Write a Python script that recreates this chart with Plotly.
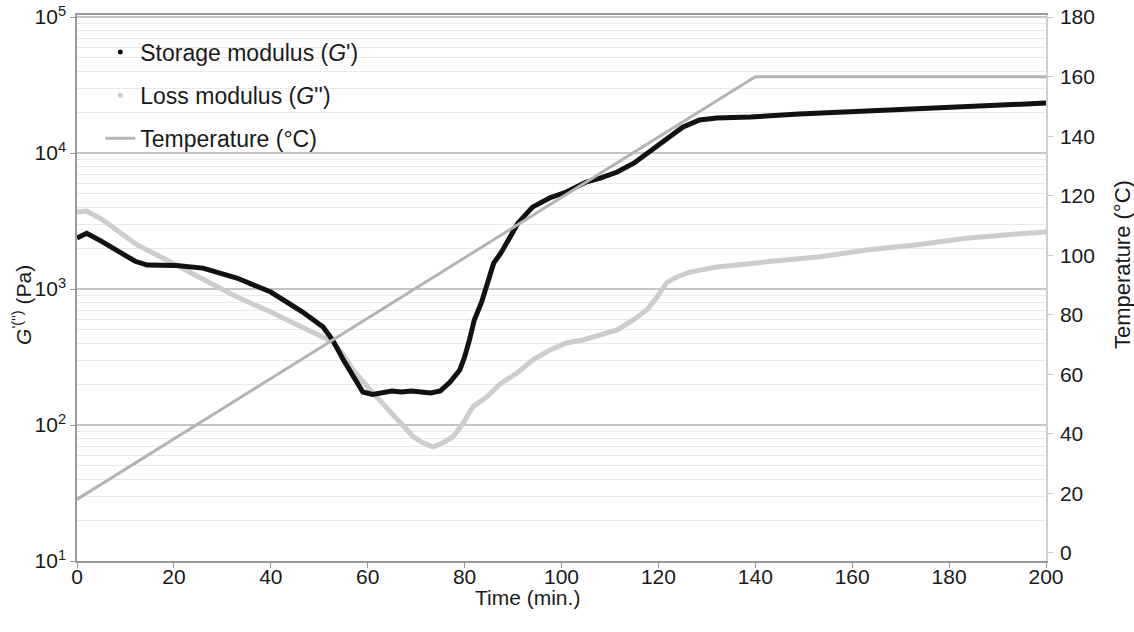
import plotly.graph_objects as go

# storage modulus G' (Pa)
time_storage = [0, 2, 5, 9, 12, 14.5, 20.5, 26, 33, 40, 46.5, 50.8, 52.8, 55, 57, 59, 61, 63,
                65, 67, 69, 71, 73, 75, 77, 79, 80, 81, 82, 83.5, 84.5, 86, 87.5, 89.5, 91,
                94, 97.5, 101, 105, 108, 111.5, 115, 118, 122, 125, 128.5, 132, 139, 149,
                163, 177, 190, 200]
storage_mod = [2370, 2570, 2250, 1840, 1600, 1500, 1490, 1425, 1205, 950, 680, 525, 420, 300,
               225, 175, 168, 172, 178, 175, 178, 175, 172, 178, 207, 254, 316, 422, 592, 800,
               1035, 1550, 1840, 2410, 3050, 4000, 4670, 5170, 6100, 6550, 7250, 8450, 10100,
               12900, 15500, 17500, 18100, 18400, 19400, 20400, 21400, 22600, 23300]

# loss modulus G'' (Pa)
time_loss = [0, 2, 5.4, 9, 12.4, 16.5, 21.3, 26, 33, 40, 46.6, 52.8, 55, 57, 60, 63, 66.7,
             69.4, 71.4, 73.5, 75.5, 77.6, 79.7, 81.7, 84.6, 87.3, 90.8, 94.1, 97.6, 101,
             104.4, 108, 111.5, 114.8, 117.6, 119.7, 121.8, 123.8, 126.5, 132, 139, 146, 153,
             163, 173, 184, 194, 200]
loss_mod = [3680, 3750, 3210, 2570, 2110, 1780, 1450, 1165, 873, 678, 525, 408, 327, 254, 190,
            145, 105, 82, 74, 69, 74, 82, 103, 136, 161, 200, 241, 301, 356, 401, 422, 459,
            500, 592, 701, 873, 1120, 1225, 1333, 1452, 1552, 1633, 1720, 1937, 2110, 2372,
            2535, 2625]

# temperature ramp (deg C)
time_temp = [0, 140, 200]
temperature = [18, 160, 160]

log_ticks = [10, 100, 1000, 10000, 100000]
log_ticktext = ['10<sup>1</sup>', '10<sup>2</sup>', '10<sup>3</sup>', '10<sup>4</sup>', '10<sup>5</sup>']

BLACK = '#111111'
LGRAY = '#cdcdcd'
TGRAY = '#b4b4b4'
FONT = 'Arial, Liberation Sans, sans-serif'

fig = go.Figure()

fig.add_trace(go.Scatter(x=time_temp, y=temperature, yaxis='y2', mode='lines',
                         line=dict(color=TGRAY, width=3), name='Temperature (°C)',
                         legend='legend3'))
fig.add_trace(go.Scatter(x=time_loss, y=loss_mod, mode='lines',
                         line=dict(color=LGRAY, width=5), showlegend=False))
fig.add_trace(go.Scatter(x=time_storage, y=storage_mod, mode='lines',
                         line=dict(color=BLACK, width=5), showlegend=False))

# legend-only entries (dots, as in the original)
fig.add_trace(go.Scatter(x=[None], y=[None], mode='markers',
                         marker=dict(color=BLACK, size=5),
                         name="Storage modulus (<i>G</i>')", legend='legend'))
fig.add_trace(go.Scatter(x=[None], y=[None], mode='markers',
                         marker=dict(color=LGRAY, size=5),
                         name="Loss modulus (<i>G</i>'')", legend='legend2'))

leg = dict(x=0.024, xanchor='left', yanchor='middle', bgcolor='rgba(0,0,0,0)',
           font=dict(size=23, color='#1a1a1a', family=FONT))

fig.update_layout(
    width=1134, height=632,
    margin=dict(l=77, r=88, t=15, b=71),
    paper_bgcolor='white', plot_bgcolor='white',
    font=dict(family=FONT, size=21, color='#1a1a1a'),
    legend=dict(leg, y=0.932),
    legend2=dict(leg, y=0.853),
    legend3=dict(leg, y=0.774),
    xaxis=dict(
        range=[0, 200], tick0=0, dtick=20, ticks='outside', ticklen=5, tickcolor='#999999',
        ticklabelstandoff=-9,
        showline=True, linecolor='#999999', linewidth=1.5, mirror=True,
        showgrid=False, zeroline=False, automargin=False,
    ),
    yaxis=dict(
        type='log', range=[1, 5.015], tickvals=log_ticks, ticktext=log_ticktext,
        ticks='outside', ticklen=5, tickcolor='#999999', ticklabeloverflow='allow',
        showline=True, linecolor='#999999', linewidth=1.5,
        showgrid=True, gridcolor='#c4c4c4', gridwidth=1.5, zeroline=False, automargin=False,
        minor=dict(dtick='D1', showgrid=True, gridcolor='#e9e9e9', gridwidth=1),
    ),
    yaxis2=dict(
        overlaying='y', side='right', range=[-2.7, 180.7], tick0=0, dtick=20,
        ticks='outside', ticklen=5, tickcolor='#cccccc', ticklabeloverflow='allow',
        ticklabelstandoff=3,
        showline=True, linecolor='#d0d0d0', linewidth=1.5,
        showgrid=False, zeroline=False, automargin=False,
    ),
    annotations=[
        dict(text='Time (min.)', xref='paper', yref='paper', x=0.4644, y=0,
             yshift=-36, showarrow=False, xanchor='center', yanchor='middle',
             font=dict(size=21)),
        dict(text="<i>G</i><sup>'('')</sup> (Pa)", xref='paper', yref='paper', x=0,
             xshift=-55, y=0.469, textangle=-90, showarrow=False,
             xanchor='center', yanchor='middle', font=dict(size=21)),
        dict(text='Temperature (°C)', xref='paper', yref='paper', x=1, xshift=76,
             y=0.542, textangle=-90, showarrow=False,
             xanchor='center', yanchor='middle', font=dict(size=22)),
    ],
)

# drop the browser's default 8px body margin so the figure fills the window
fig.write_html('out.html', config={'displayModeBar': False},
               post_script="document.body.style.margin='0';")
